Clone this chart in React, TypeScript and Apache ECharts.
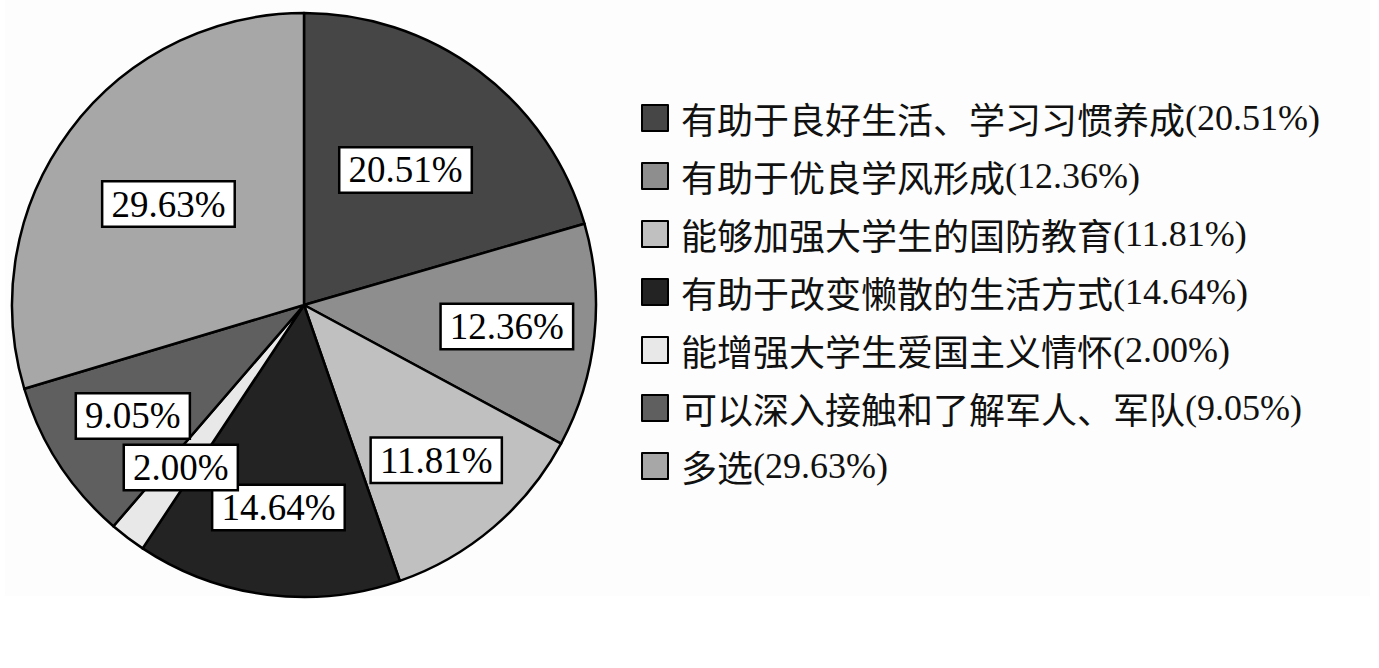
import { useEffect, useRef } from 'react'
import * as echarts from 'echarts'

const categories = [
  '有助于良好生活、学习习惯养成',
  '有助于优良学风形成',
  '能够加强大学生的国防教育',
  '有助于改变懒散的生活方式',
  '能增强大学生爱国主义情怀',
  '可以深入接触和了解军人、军队',
  '多选',
]
const percents = [20.51, 12.36, 11.81, 14.64, 2.0, 9.05, 29.63]
const greys = ['#464646', '#8e8e8e', '#c0c0c0', '#232323', '#e8e8e8', '#5f5f5f', '#a7a7a7']

const CENTER = [304, 305]
const R = 292

export default function App() {
  const ref = useRef<HTMLDivElement>(null)

  useEffect(() => {
    if (!ref.current) return
    const chart = echarts.init(ref.current, null, { renderer: 'svg' })

    const pieData = categories.map((name, i) => ({
      name,
      value: percents[i],
      itemStyle: { color: greys[i] },
    }))

    const labelBox = {
      color: '#000',
      fontFamily: '"Liberation Serif", serif',
      fontSize: 37,
      backgroundColor: '#fff',
      borderColor: '#000',
      borderWidth: 2.5,
      padding: [4, 8, 2, 8],
      formatter: (p: any) => `${p.value.toFixed(2)}%`,
    }

    // transparent rings only used to place the percentage boxes
    const labelRing = (radius: number[], big: boolean) => ({
      type: 'pie',
      silent: true,
      center: CENTER,
      radius,
      startAngle: 90,
      clockwise: true,
      z: 5,
      avoidLabelOverlap: false,
      labelLayout: { hideOverlap: false },
      itemStyle: { color: 'transparent', borderWidth: 0 },
      labelLine: { show: false },
      data: categories.map((name, i) => ({
        name,
        value: percents[i],
        label: { show: big ? percents[i] >= 20 : percents[i] < 20 },
      })),
      label: { position: 'inside', ...labelBox },
      emphasis: { disabled: true },
      tooltip: { show: false },
    })

    chart.setOption({
      animation: false,
      backgroundColor: '#fff',
      graphic: [
        {
          type: 'rect',
          z: -10,
          silent: true,
          shape: { x: 5, y: 0, width: 1365, height: 596 },
          style: { fill: '#fdfdfd' },
        },
      ],
      legend: {
        orient: 'vertical',
        left: 636,
        top: 95,
        icon: 'rect',
        itemWidth: 26,
        itemHeight: 26,
        itemGap: 22,
        selectedMode: false,
        data: categories,
        formatter: (name: string) => {
          const i = categories.indexOf(name)
          return `{n|${name}}{p|(${percents[i].toFixed(2)}%)}`
        },
        textStyle: {
          padding: [0, 0, 0, 8],
          rich: {
            n: {
              fontFamily: '"Noto Sans CJK SC", sans-serif',
              fontSize: 36,
              color: '#111',
              lineHeight: 40,
            },
            p: {
              fontFamily: '"Liberation Serif", serif',
              fontSize: 36,
              color: '#111',
              lineHeight: 40,
            },
          },
        },
      },
      series: [
        {
          type: 'pie',
          name: 'main',
          center: CENTER,
          radius: [0, R],
          startAngle: 90,
          clockwise: true,
          silent: true,
          itemStyle: { borderColor: '#000', borderWidth: 2.5 },
          label: { show: false },
          labelLine: { show: false },
          emphasis: { disabled: true },
          data: pieData,
        },
        labelRing([140, 262], false),
        labelRing([100, 232], true),
      ],
    })

    return () => chart.dispose()
  }, [])

  return (
    <div
      ref={ref}
      style={{ position: 'fixed', left: 0, top: 0, width: 1379, height: 668 }}
    />
  )
}
